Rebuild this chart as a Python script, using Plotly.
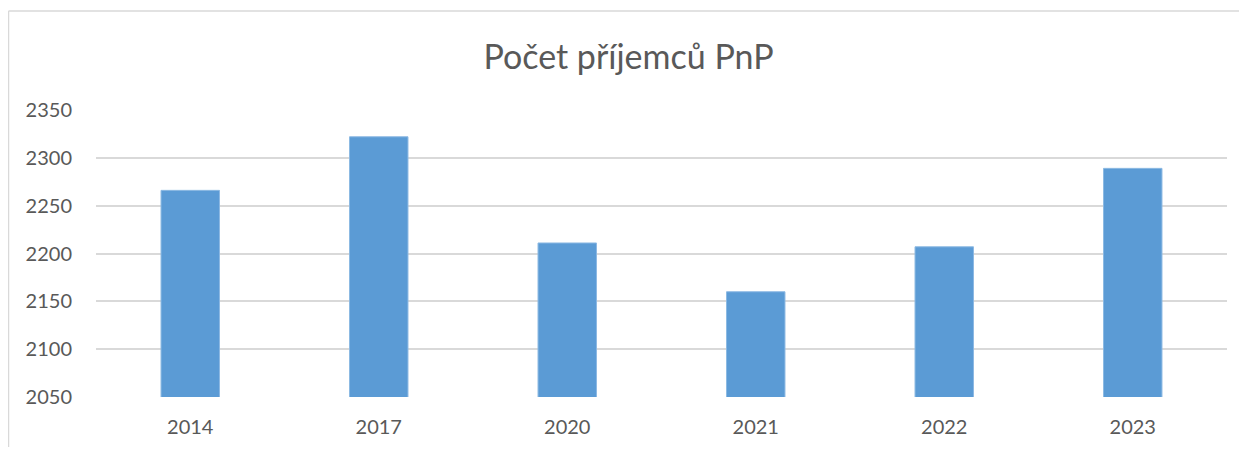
import plotly.graph_objects as go

years = ["2014", "2017", "2020", "2021", "2022", "2023"]
recipients = [2266, 2322, 2211, 2160, 2207, 2289]
y_ticks = [2050, 2100, 2150, 2200, 2250, 2300, 2350]
title_text = "Počet příjemců PnP"

# page body has an 8px margin, so the figure is sized to fit within the window
W, H = 1231, 439
L, R, T, B = 88, 12, 102, 50
pw, ph = W - L - R, H - T - B

fig = go.Figure(go.Bar(
    x=years, y=recipients,
    marker=dict(color="#5b9bd5", line=dict(color="#8cb9e3", width=1)),
    width=0.31,
))

def px_to_paper_x(p):
    return (p - L) / pw

def px_to_paper_y(p):
    return (H - B - p) / ph

fig.update_layout(
    width=W, height=H,
    margin=dict(l=L, r=R, t=T, b=B, autoexpand=False),
    paper_bgcolor="white", plot_bgcolor="white",
    font=dict(family="Lato, Open Sans, sans-serif", color="#595959", size=20),
    title=dict(text=title_text, x=0.5 + 5 / W, xanchor="center", y=1 - 49 / H, yanchor="middle",
               xref="container", yref="container", font=dict(size=34, color="#595959")),
    showlegend=False,
    xaxis=dict(showgrid=False, showline=False, zeroline=False, ticks="",
               ticklabelstandoff=16, automargin=False),
    yaxis=dict(range=[2050, 2350], tickvals=y_ticks, showgrid=True, gridcolor="#d9d9d9",
               gridwidth=1.5, zeroline=False, showline=False, ticks="",
               ticklabelstandoff=23, automargin=False),
    shapes=[
        dict(type="line", xref="paper", yref="paper",
             x0=px_to_paper_x(0.5), x1=px_to_paper_x(W + 10),
             y0=px_to_paper_y(3), y1=px_to_paper_y(3),
             line=dict(color="#d9d9d9", width=1.5)),
        dict(type="line", xref="paper", yref="paper",
             x0=px_to_paper_x(0.5), x1=px_to_paper_x(0.5),
             y0=px_to_paper_y(3), y1=px_to_paper_y(H + 10),
             line=dict(color="#d9d9d9", width=1.5)),
    ],
)

fig.write_html("out.html")
